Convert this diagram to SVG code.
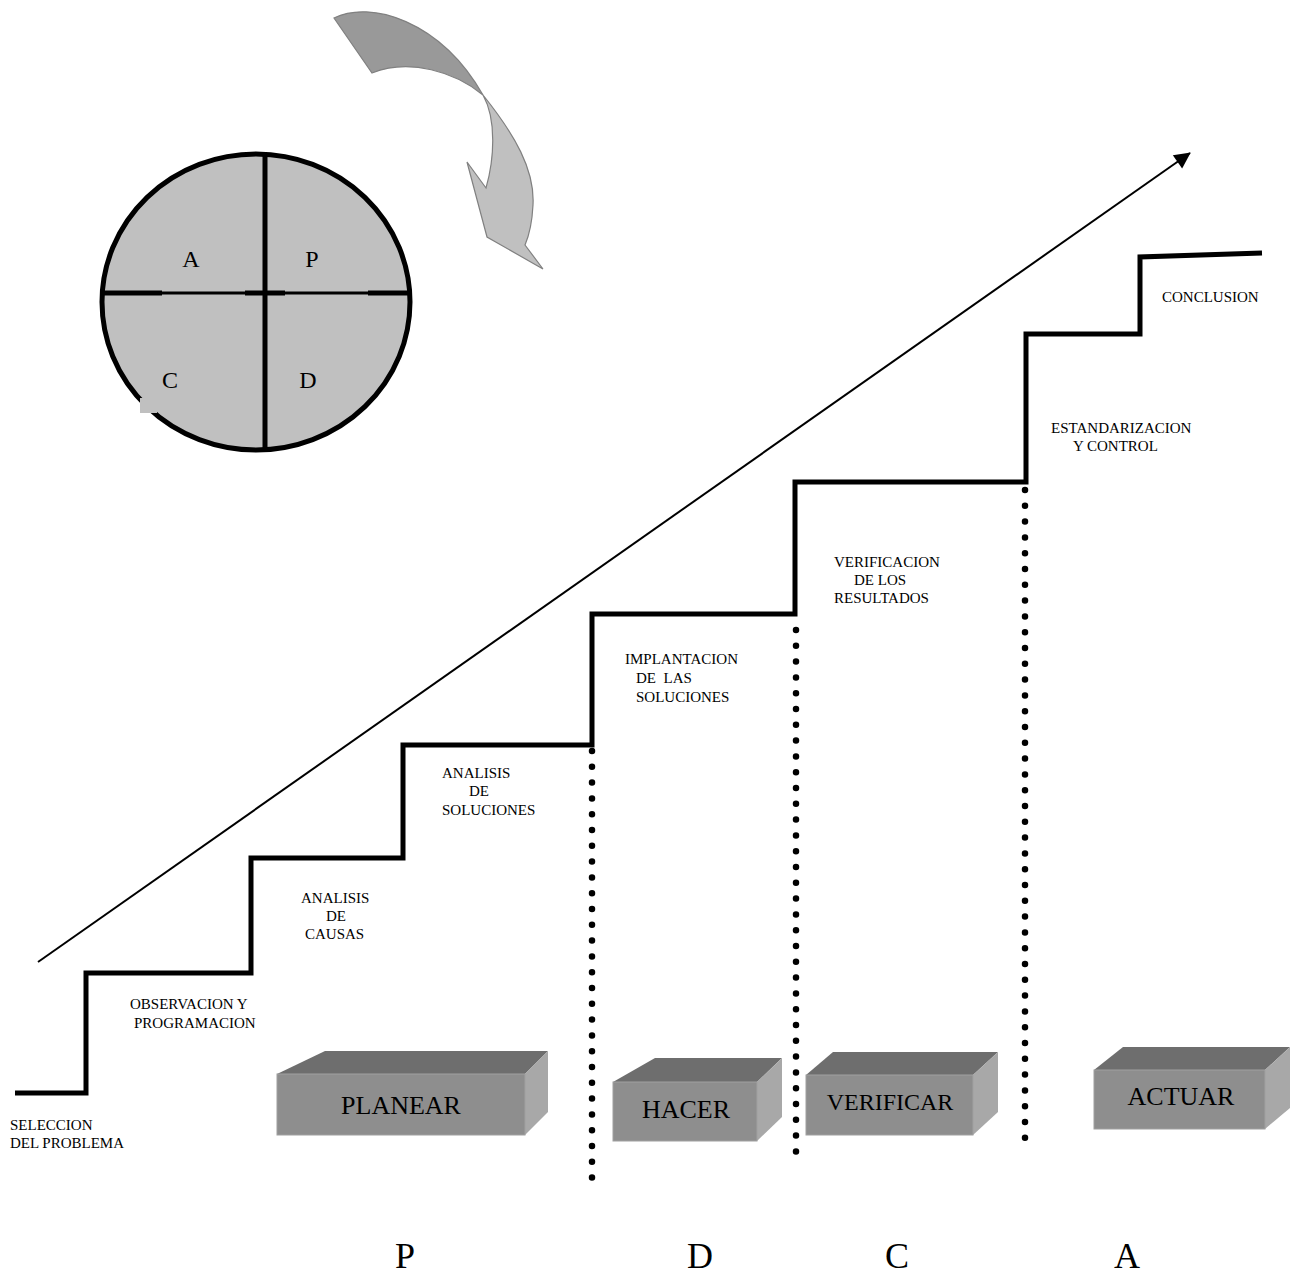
<svg xmlns="http://www.w3.org/2000/svg" width="1300" height="1280" viewBox="0 0 1300 1280">
<defs>
<style>
text{font-family:"Liberation Serif","Times New Roman",serif;fill:#000}
.sm{font-size:15px}
.box{font-size:26px;text-anchor:middle}
.big{font-size:36px;text-anchor:middle}
.cir{font-size:24px;text-anchor:middle}
.top{fill:#6e6e6e}
.front{fill:#8e8e8e;stroke:#a0a0a0;stroke-width:1}
.side{fill:#a8a8a8}
.dots{stroke:#000;stroke-width:6.5;stroke-linecap:round;stroke-dasharray:0 15.8;fill:none}
</style>
<marker id="ah" viewBox="0 0 10 10" refX="9" refY="5" markerWidth="10" markerHeight="9" markerUnits="userSpaceOnUse" orient="auto" overflow="visible">
<path d="M-8,-4 L10,5 L-8,14 Z" transform="scale(1)" fill="#000"/>
</marker>
</defs>
<rect width="1300" height="1280" fill="#fff"/>

<g id="cycle-circle">
<ellipse cx="256" cy="302" rx="154" ry="148" fill="#c0c0c0" stroke="#000" stroke-width="5"/>
<line x1="265" y1="153" x2="265" y2="452" stroke="#000" stroke-width="5"/>
<line x1="101" y1="293" x2="410" y2="293" stroke="#000" stroke-width="3"/>
<line x1="101" y1="293" x2="162" y2="293" stroke="#000" stroke-width="5"/>
<line x1="245" y1="293" x2="285" y2="293" stroke="#000" stroke-width="5"/>
<line x1="368" y1="293" x2="410" y2="293" stroke="#000" stroke-width="5"/>
<rect x="140" y="398" width="17" height="15" fill="#c0c0c0"/>
<text class="cir" x="191" y="267">A</text>
<text class="cir" x="312" y="267">P</text>
<text class="cir" x="170" y="388">C</text>
<text class="cir" x="308" y="388">D</text>
</g>

<g id="curved-arrow" stroke="#808080" stroke-width="1.2">
<path d="M334,18 C370,0 440,20 483,95 C455,72 410,58 372,73 Z" fill="#999"/>
<path d="M483,95 C515,135 535,170 533,205 C532,225 528,238 525,245 L543,269 L487,237 L467,162 L486,188 C494,160 497,120 483,95 Z" fill="#c0c0c0"/>
</g>

<g id="connectors">
<line id="progress-arrow" x1="38" y1="962" x2="1190" y2="153" stroke="#000" stroke-width="2" marker-end="url(#ah)"/>
<path id="staircase" d="M15,1093 H86 V973 H251 V858 H403 V745 H592 V614 H795 V482 H1026 V334 H1140 V257 L1262,253" fill="none" stroke="#000" stroke-width="5"/>
<line class="dots" x1="592" y1="751" x2="592" y2="1180"/>
<line class="dots" x1="796" y1="630" x2="796" y2="1162"/>
<line class="dots" x1="1025" y1="490" x2="1025" y2="1146"/>
</g>

<g id="step-labels">
<text class="sm" x="10" y="1130">SELECCION</text>
<text class="sm" x="10" y="1148">DEL PROBLEMA</text>
<text class="sm" x="130" y="1009">OBSERVACION Y</text>
<text class="sm" x="134" y="1028">PROGRAMACION</text>
<text class="sm" x="301" y="903">ANALISIS</text>
<text class="sm" x="326" y="921">DE</text>
<text class="sm" x="305" y="939">CAUSAS</text>
<text class="sm" x="442" y="778">ANALISIS</text>
<text class="sm" x="469" y="796">DE</text>
<text class="sm" x="442" y="815">SOLUCIONES</text>
<text class="sm" x="625" y="664">IMPLANTACION</text>
<text class="sm" x="636" y="683" xml:space="preserve">DE  LAS</text>
<text class="sm" x="636" y="702">SOLUCIONES</text>
<text class="sm" x="834" y="567">VERIFICACION</text>
<text class="sm" x="854" y="585">DE LOS</text>
<text class="sm" x="834" y="603">RESULTADOS</text>
<text class="sm" x="1051" y="433">ESTANDARIZACION</text>
<text class="sm" x="1073" y="451">Y CONTROL</text>
<text class="sm" x="1162" y="302">CONCLUSION</text>
</g>

<g id="box-planear">
<polygon class="top" points="277,1074 325,1051 548,1051 525,1074"/>
<polygon class="side" points="525,1074 548,1051 548,1112 525,1135"/>
<rect class="front" x="277" y="1074" width="248" height="61"/>
<text class="box" x="401" y="1114">PLANEAR</text>
</g>
<g id="box-hacer">
<polygon class="top" points="613,1082 655,1058 782,1058 757,1082"/>
<polygon class="side" points="757,1082 782,1058 782,1117 757,1141"/>
<rect class="front" x="613" y="1082" width="144" height="59"/>
<text class="box" x="686" y="1118">HACER</text>
</g>
<g id="box-verificar">
<polygon class="top" points="806,1075 833,1052 998,1052 973,1075"/>
<polygon class="side" points="973,1075 998,1052 998,1112 973,1135"/>
<rect class="front" x="806" y="1075" width="167" height="60"/>
<text class="box" x="890" y="1110" style="font-size:24px">VERIFICAR</text>
</g>
<g id="box-actuar">
<polygon class="top" points="1094,1070 1123,1047 1290,1047 1265,1070"/>
<polygon class="side" points="1265,1070 1290,1047 1290,1108 1265,1129"/>
<rect class="front" x="1094" y="1070" width="171" height="59"/>
<text class="box" x="1181" y="1105">ACTUAR</text>
</g>

<g id="pdca-letters">
<text class="big" x="405" y="1268">P</text>
<text class="big" x="700" y="1268">D</text>
<text class="big" x="897" y="1268">C</text>
<text class="big" x="1127" y="1268">A</text>
</g>
</svg>
